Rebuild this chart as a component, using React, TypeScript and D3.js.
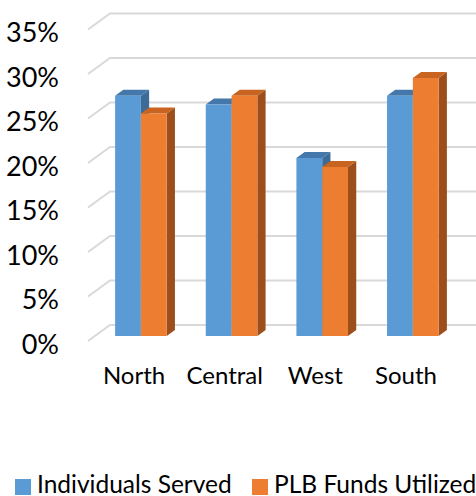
import * as d3 from 'd3';

const categories = ['North', 'Central', 'West', 'South'];
const individualsServed = [27, 26, 20, 27];
const plbFundsUtilized = [25, 27, 19, 29];
const yTicks = [0, 5, 10, 15, 20, 25, 30, 35];

const seriesNames = ['Individuals Served', 'PLB Funds Utilized'];
const seriesValues = [individualsServed, plbFundsUtilized];
const front = ['#5B9BD5', '#ED7D31'];
const top = ['#4477AA', '#C8641F'];
const side = ['#3D6B98', '#9C4E1C'];

const W = 476;
const H = 496;
// full floor depth offset
const DX = 22;
const DY = -16;
const font = 'Lato, "Open Sans", sans-serif';

export default function App() {
  const x = d3.scaleBand().domain(categories).range([88.7, 451.3]);
  const y = d3.scaleLinear().domain([0, 35]).range([341, 29.5]);

  // depth projection: d in [0,1]
  const px = (xx: number, d: number) => xx + DX * d;
  const py = (yy: number, d: number) => yy + DY * d;

  const barW = 25.8;
  const d0 = 5 / 16;
  const d1 = 11 / 16;

  const bars: JSX.Element[] = [];
  categories.forEach((c, i) => {
    const cx = (x(c) as number) + x.bandwidth() / 2;
    seriesValues.forEach((vals, s) => {
      const v = vals[i];
      const xl = cx - barW + s * barW;
      const xr = xl + barW;
      const yt = y(v);
      const yb = y(0);
      const f = `M${px(xl, d0)},${py(yt, d0)}H${px(xr, d0)}V${py(yb, d0)}H${px(xl, d0)}Z`;
      const t = `M${px(xl, d0)},${py(yt, d0)}L${px(xl, d1)},${py(yt, d1)}L${px(xr, d1)},${py(yt, d1)}L${px(xr, d0)},${py(yt, d0)}Z`;
      const sd = `M${px(xr, d0)},${py(yt, d0)}L${px(xr, d1)},${py(yt, d1)}L${px(xr, d1)},${py(yb, d1)}L${px(xr, d0)},${py(yb, d0)}Z`;
      bars.push(
        <g key={`${c}-${s}`}>
          <path d={sd} fill={side[s]} />
          <path d={t} fill={top[s]} />
          <path d={f} fill={front[s]} />
        </g>
      );
    });
  });

  return (
    <svg width={W} height={H} style={{ position: 'absolute', left: 0, top: 0 }}>
      <rect width={W} height={H} fill="#fff" />
      <g stroke="#D9D9D9" strokeWidth={2} fill="none">
        {yTicks.map((t) => (
          <path
            key={t}
            d={`M${px(88, 0)},${py(y(t), 0)}L${px(88, 1)},${py(y(t), 1)}H${W}`}
          />
        ))}
      </g>
      {bars}
      <g fontFamily={font} fontSize={27} fill="#000" textAnchor="end">
        {yTicks.map((t) => (
          <text key={t} x={59} y={y(t) + 2} dominantBaseline="central">
            {t}%
          </text>
        ))}
      </g>
      <g fontFamily={font} fontSize={24} fill="#000" textAnchor="middle">
        {categories.map((c) => (
          <text key={c} x={(x(c) as number) + x.bandwidth() / 2} y={384}>
            {c}
          </text>
        ))}
      </g>
      <g fontFamily={font} fontSize={24.5} fill="#000">
        {seriesNames.map((n, s) => {
          const lx = s === 0 ? 15 : 252;
          return (
            <g key={n}>
              <rect x={lx} y={479} width={16} height={16} fill={front[s]} />
              <text x={lx + 22} y={493}>
                {n}
              </text>
            </g>
          );
        })}
      </g>
    </svg>
  );
}
